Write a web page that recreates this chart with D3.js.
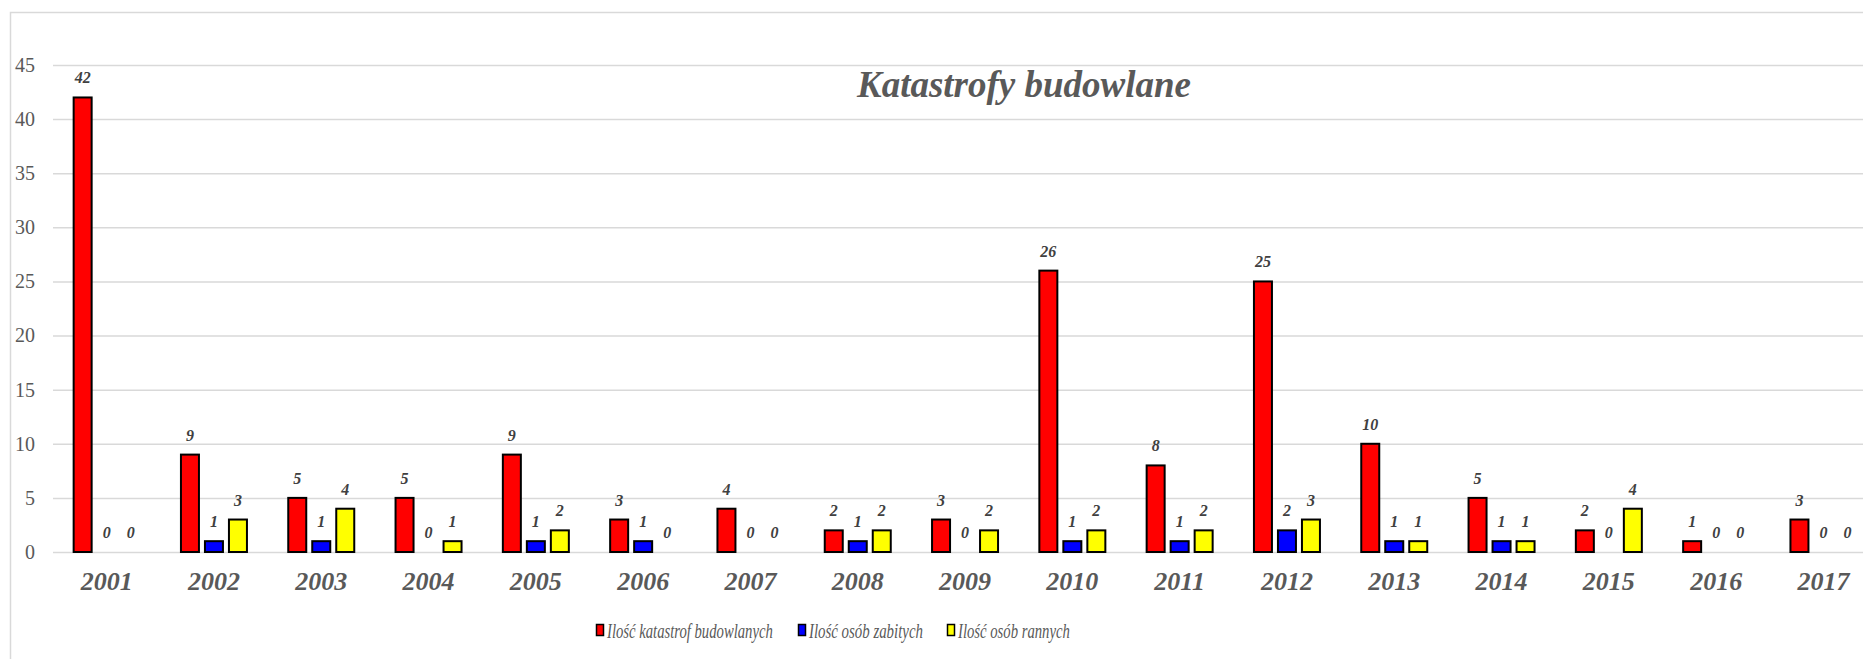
<!DOCTYPE html>
<html>
<head>
<meta charset="utf-8">
<script src="https://cdn.jsdelivr.net/npm/d3@7/dist/d3.min.js"></script>
<style>
  body { margin: 0; background: #fff; }
  svg text { font-family: "Liberation Serif", "Times New Roman", serif; }
</style>
</head>
<body>
<div id="chart"></div>
<script>
// data
var years = ["2001","2002","2003","2004","2005","2006","2007","2008","2009","2010","2011","2012","2013","2014","2015","2016","2017"];
var katastrofy = [42, 9, 5, 5, 9, 3, 4, 2, 3, 26, 8, 25, 10, 5, 2, 1, 3];
var zabici     = [0, 1, 1, 0, 1, 1, 0, 1, 0, 1, 1, 2, 1, 1, 0, 0, 0];
var ranni      = [0, 3, 4, 1, 2, 0, 0, 2, 2, 2, 2, 3, 1, 1, 4, 0, 0];
var seriesNames = ["Ilość katastrof budowlanych", "Ilość osób zabitych", "Ilość osób rannych"];
var seriesColors = ["#ff0000", "#0000ff", "#ffff00"];
var yTicks = [0, 5, 10, 15, 20, 25, 30, 35, 40, 45];

var W = 1863, H = 659;
var plot = {left: 53, right: 53 + 17 * 107.3, top: 65, bottom: 552};

var svg = d3.select("#chart").append("svg")
    .attr("width", W).attr("height", H);

// outer frame
svg.append("rect")
    .attr("x", 10.5).attr("y", 12.5)
    .attr("width", W + 20).attr("height", H + 20)
    .attr("fill", "none").attr("stroke", "#d9d9d9").attr("stroke-width", 1.5);

var x0 = d3.scaleBand().domain(years).range([plot.left, plot.right]).padding(0);
var x1 = d3.scaleBand().domain(seriesNames).range([-36, 36]).padding(0);
var y = d3.scaleLinear().domain([0, 45]).range([plot.bottom, plot.top]);

// grid + y labels
var yAxis = d3.axisLeft(y).tickValues(yTicks).tickSize(-(plot.right - plot.left)).tickPadding(18);
var gy = svg.append("g").attr("transform", "translate(" + plot.left + ",0)").call(yAxis);
gy.select(".domain").remove();
gy.selectAll(".tick line").attr("stroke", "#d9d9d9").attr("stroke-width", 1.5);
gy.selectAll(".tick text")
    .attr("fill", "#595959")
    .style("font-size", "20px");

// x labels
var xAxis = d3.axisBottom(x0).tickSize(0).tickPadding(20);
var gx = svg.append("g").attr("transform", "translate(0," + plot.bottom + ")").call(xAxis);
gx.select(".domain").remove();
gx.selectAll(".tick text")
    .attr("fill", "#595959")
    .style("font-size", "26px")
    .style("font-weight", "bold")
    .style("font-style", "italic");

var rows = years.map(function (yr, i) {
    return {year: yr, vals: [katastrofy[i], zabici[i], ranni[i]]};
});

var groups = svg.selectAll("g.year")
    .data(rows)
    .enter().append("g")
    .attr("class", "year")
    .attr("transform", function (d) { return "translate(" + (x0(d.year) + x0.bandwidth() / 2) + ",0)"; });

var bw = x1.bandwidth();
groups.selectAll("rect")
    .data(function (d) { return d.vals.map(function (v, j) { return {v: v, s: seriesNames[j], c: seriesColors[j]}; }); })
    .enter().append("rect")
    .filter(function (d) { return d.v > 0; })
    .attr("x", function (d) { return x1(d.s) + 3; })
    .attr("width", bw - 6)
    .attr("y", function (d) { return y(d.v); })
    .attr("height", function (d) { return y(0) - y(d.v); })
    .attr("fill", function (d) { return d.c; })
    .attr("stroke", "#000")
    .attr("stroke-width", 2);

groups.selectAll("text.val")
    .data(function (d) { return d.vals.map(function (v, j) { return {v: v, s: seriesNames[j]}; }); })
    .enter().append("text")
    .attr("class", "val")
    .attr("x", function (d) { return x1(d.s) + bw / 2; })
    .attr("y", function (d) { return y(d.v) - 14; })
    .attr("text-anchor", "middle")
    .attr("fill", "#404040")
    .style("font-size", "16px")
    .style("font-weight", "bold")
    .style("font-style", "italic")
    .text(function (d) { return d.v; });

// title
svg.append("text")
    .attr("x", 1024).attr("y", 97)
    .attr("text-anchor", "middle")
    .attr("fill", "#595959")
    .style("font-size", "37px")
    .style("font-weight", "bold")
    .style("font-style", "italic")
    .text("Katastrofy budowlane");

// legend: each label squeezed horizontally to the reference width
var legendX = [596, 798, 947];
var legendW = [166, 114, 112];
var leg = svg.selectAll("g.leg")
    .data(seriesNames)
    .enter().append("g")
    .attr("class", "leg")
    .attr("transform", function (d, i) { return "translate(" + legendX[i] + ",630)"; });
leg.append("rect")
    .attr("x", 0.5).attr("y", -5.5)
    .attr("width", 7).attr("height", 11)
    .attr("fill", function (d, i) { return seriesColors[i]; })
    .attr("stroke", "#000").attr("stroke-width", 1.5);
leg.append("text")
    .attr("x", 0).attr("y", 0)
    .attr("fill", "#595959")
    .style("font-size", "22px")
    .style("font-style", "italic")
    .text(function (d) { return d; })
    .attr("transform", function (d, i) {
        var natural = this.getComputedTextLength();
        var sx = Math.min(1, legendW[i] / natural);
        return "translate(11,7.5) scale(" + sx + ",1)";
    });
</script>
</body>
</html>
